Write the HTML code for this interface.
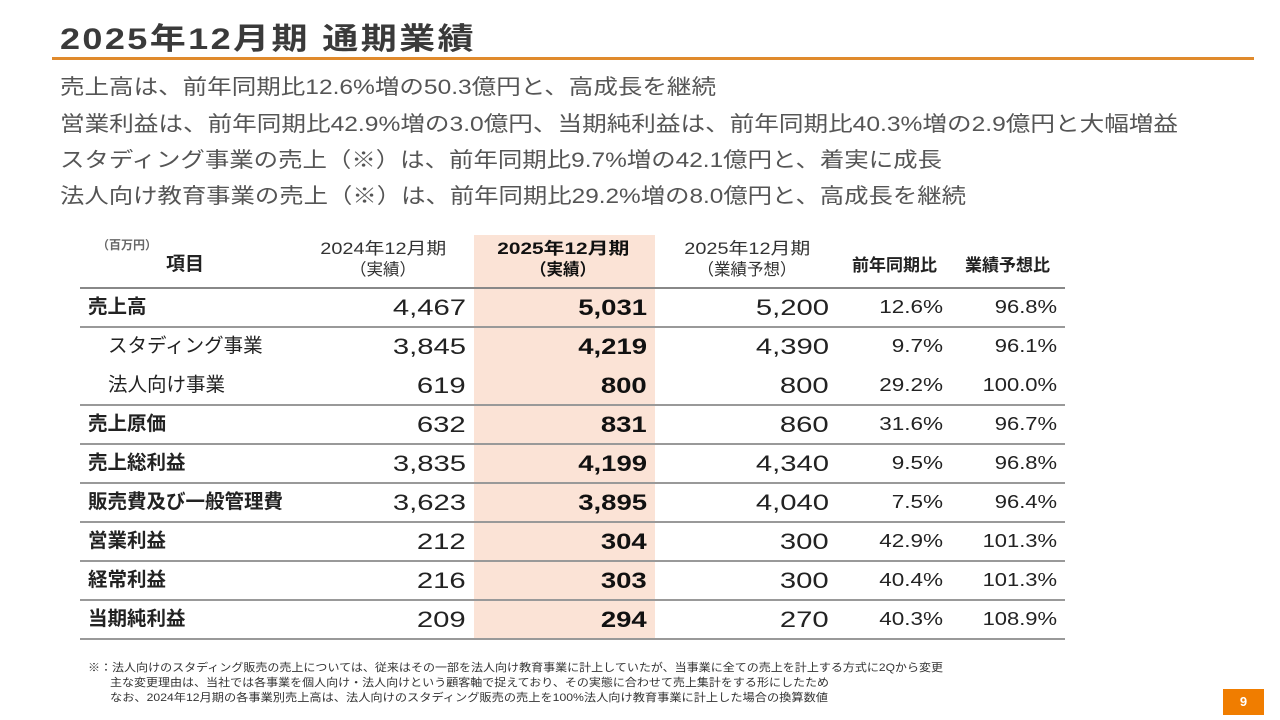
<!DOCTYPE html>
<html><head><meta charset="utf-8">
<style>
body{margin:0;width:1280px;height:720px;background:#fff;position:relative;overflow:hidden;font-family:"Liberation Sans","Noto Sans CJK JP",sans-serif;color:#222}
.a{position:absolute;white-space:nowrap}
.title{left:60px;top:14px;font-size:30px;font-weight:bold;color:#3a3a3a;letter-spacing:2px}
.rule{left:52px;top:57px;width:1202px;height:3px;background:#E08A2C}
.b{left:60px;font-size:21px;color:#555;line-height:30px}
.hl{left:474px;top:235px;width:181px;height:404px;background:#FBE3D6}
.hline{left:80px;width:985px;height:1.5px;background:#999}
.cell{font-size:22px;line-height:39px;text-align:right}
.pct{font-size:18px;line-height:39px;text-align:right}
.item{left:88px;font-size:19.5px;font-weight:bold;line-height:39px}
.sub{left:108px;font-weight:normal}
.hd{font-size:16.5px;text-align:center;line-height:21px;color:#333}
.fn{left:88px;font-size:11px;color:#333;line-height:15.5px}
.s{display:inline-block}
</style></head><body>
<div class="a title"><span class="s" data-tw="416">2025年12月期 通期業績</span></div>
<div class="a rule"></div>
<div class="a b" style="top:73px"><span class="s" data-tw="656">売上高は、前年同期比12.6%増の50.3億円と、高成長を継続</span></div>
<div class="a b" style="top:110px"><span class="s" data-tw="1118">営業利益は、前年同期比42.9%増の3.0億円、当期純利益は、前年同期比40.3%増の2.9億円と大幅増益</span></div>
<div class="a b" style="top:146px"><span class="s" data-tw="882">スタディング事業の売上（※）は、前年同期比9.7%増の42.1億円と、着実に成長</span></div>
<div class="a b" style="top:182px"><span class="s" data-tw="906">法人向け教育事業の売上（※）は、前年同期比29.2%増の8.0億円と、高成長を継続</span></div>

<div class="a hl"></div>
<div class="a" style="left:97px;top:236px;font-size:12px;color:#666;font-weight:bold">（百万円）</div>
<div class="a" style="left:166px;top:249px;font-size:19px;font-weight:bold">項目</div>
<div class="a hd" style="left:298px;top:239px;width:170px"><span class="s" data-tw="126">2024年12月期</span><br>（実績）</div>
<div class="a hd" style="left:478px;top:239px;width:170px;font-weight:bold;color:#111"><span class="s" data-tw="132">2025年12月期</span><br>（実績）</div>
<div class="a hd" style="left:662px;top:239px;width:170px"><span class="s" data-tw="126">2025年12月期</span><br>（業績予想）</div>
<div class="a" style="left:852px;top:251px;font-size:17px;font-weight:bold">前年同期比</div>
<div class="a" style="left:965px;top:251px;font-size:17px;font-weight:bold">業績予想比</div>

<div id="rows"></div>

<div class="a fn" style="top:661px"><span class="s" data-tw="855">※：法人向けのスタディング販売の売上については、従来はその一部を法人向け教育事業に計上していたが、当事業に全ての売上を計上する方式に2Qから変更</span></div>
<div class="a fn" style="top:676px;left:110px"><span class="s" data-tw="719">主な変更理由は、当社では各事業を個人向け・法人向けという顧客軸で捉えており、その実態に合わせて売上集計をする形にしたため</span></div>
<div class="a fn" style="top:691px;left:110px"><span class="s" data-tw="718">なお、2024年12月期の各事業別売上高は、法人向けのスタディング販売の売上を100%法人向け教育事業に計上した場合の換算数値</span></div>
<div class="a" style="left:1223px;top:689px;width:41px;height:26px;background:#F07D00;color:#fff;font-size:13px;font-weight:bold;text-align:center;line-height:26px">9</div>

<script>
const items=["売上高","スタディング事業","法人向け事業","売上原価","売上総利益","販売費及び一般管理費","営業利益","経常利益","当期純利益"];
const fy2024=["4,467","3,845","619","632","3,835","3,623","212","216","209"];
const fy2025=["5,031","4,219","800","831","4,199","3,895","304","303","294"];
const forecast=["5,200","4,390","800","860","4,340","4,040","300","300","270"];
const yoy=["12.6%","9.7%","29.2%","31.6%","9.5%","7.5%","42.9%","40.4%","40.3%"];
const vsForecast=["96.8%","96.1%","100.0%","96.7%","96.8%","96.4%","101.3%","101.3%","108.9%"];
const subRows=[false,true,true,false,false,false,false,false,false];
const root=document.getElementById('rows');
const top0=288,rowH=39;
function add(cls,style,text,name,sx){const d=document.createElement('div');d.className='a '+cls;d.setAttribute('style',style);


if(sx){const s=document.createElement('span');s.className='s';s.textContent=text;s.style.transform='scaleX('+sx+')';s.style.transformOrigin='right center';d.appendChild(s);}else d.textContent=text;
root.appendChild(d);return d;}
add('hline','top:'+(top0-1)+'px;background:#888','','header-rule');
items.forEach((it,i)=>{
  const y=top0+i*rowH;
  add('item'+(subRows[i]?' sub':''),'top:'+y+'px',it,'row-label');
  add('cell','left:300px;width:166px;top:'+y+'px',fy2024[i],'value-2024',1.33);
  add('cell','left:480px;width:167px;top:'+y+'px;font-weight:bold;color:#111',fy2025[i],'value-2025',1.25);
  add('cell','left:660px;width:169px;top:'+y+'px',forecast[i],'value-forecast',1.33);
  add('pct','left:840px;width:103px;top:'+y+'px',yoy[i],'value-yoy',1.25);
  add('pct','left:950px;width:107px;top:'+y+'px',vsForecast[i],'value-vs-forecast',1.22);
  const next=subRows[i+1];
  if(!(subRows[i]&&next)) add('hline','top:'+(y+rowH-1)+'px','','row-rule');
});
document.querySelectorAll('[data-tw]').forEach(s=>{
  const w=s.getBoundingClientRect().width;const tw=+s.getAttribute('data-tw');
  const centered=s.parentElement.classList.contains('hd');
  s.style.transformOrigin=centered?'center center':'left center';
  s.style.transform='scaleX('+(tw/w)+')';
});
</script>
</body></html>
